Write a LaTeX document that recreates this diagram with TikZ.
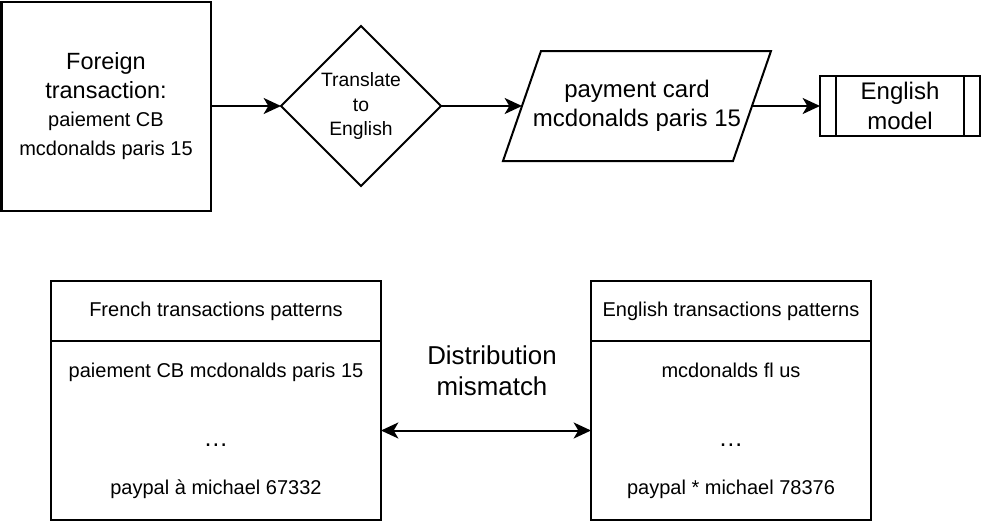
\documentclass[tikz,border=0pt]{standalone}
\usepackage{fontspec}
\setmainfont{Liberation Sans}
\usepackage{tikz}
\usetikzlibrary{arrows.meta, positioning, shapes.geometric, calc}
\newcommand{\pxu}{0.75pt}
\newcommand{\moredots}{{\fontsize{18.5}{18}\selectfont …}}

\begin{document}
\begin{tikzpicture}[
			x=0.75pt, y=-0.75pt,
			block/.style={rectangle, draw, line width=1.5pt, outer sep=0pt, inner sep=0pt, align=center},
			decision/.style={diamond, draw, line width=1.5pt, outer sep=0pt, inner sep=0pt, align=center, minimum width=160*\pxu, minimum height=160*\pxu, font=\fontsize{14.5}{18.5}\selectfont},
			data/.style={rectangle, outer sep=0pt, inner sep=0pt, align=center, minimum width=268*\pxu, minimum height=110*\pxu, font=\fontsize{18}{21.5}\selectfont},
			process/.style={block, minimum width=160*\pxu, minimum height=60*\pxu, font=\fontsize{18}{22.5}\selectfont},
			head/.style={block, minimum width=330*\pxu, minimum height=60*\pxu, font=\fontsize{15}{18}\selectfont},
			list/.style={block, minimum width=330*\pxu, minimum height=179*\pxu, font=\fontsize{15}{18}\selectfont},
			arrow/.style={-{Stealth[length=13pt, width=12pt, inset=3.5pt]}, line width=1.5pt},
			twoway/.style={{Stealth[length=13pt, width=12pt, inset=3.5pt]}-{Stealth[length=13pt, width=12pt, inset=3.5pt]}, line width=1.5pt}
		]
		\useasboundingbox (0,0) rectangle (982,522);
		
		\node[block, minimum width=209*\pxu, minimum height=209*\pxu, font=\fontsize{15}{21.5}\selectfont] (foreign) at (106,106) {{\fontsize{17.6}{21.5}\selectfont Foreign}\\{\fontsize{17.6}{21.5}\selectfont transaction:}\\paiement CB\\mcdonalds paris 15};
		\node[decision] (translate) at (361,106) {Translate\\to\\English};
		\node[data] (card) at (637,106) {payment card\\mcdonalds paris 15};
		% slanted data shape round the card text
		\draw[line width=1.5pt, line join=miter] (card.south west) -- ($(card.north west)+(38,0)$) -- (card.north east) -- ($(card.south east)+(-38,0)$) -- cycle;
		\coordinate (cardin) at ($(card.west)+(19,0)$);
		\coordinate (cardout) at ($(card.east)+(-19,0)$);
		\node[process] (engmodel) at (900,106) {English\\model};
		\draw[line width=1.5pt] ($(engmodel.north west)+(16,0)$) -- ($(engmodel.south west)+(16,0)$);
		\draw[line width=1.5pt] ($(engmodel.north east)+(-16,0)$) -- ($(engmodel.south east)+(-16,0)$);
		
		\node[head] (frhead) at (216,311) {French transactions patterns};
		\node[list, below=0pt of frhead] (frlist) {paiement CB mcdonalds paris 15\\[34pt]\moredots\\[17.5pt]paypal à michael 67332};
		\node[head, minimum width=280*\pxu] (enhead) at (731,311) {English transactions patterns};
		\node[list, minimum width=280*\pxu, below=0pt of enhead] (enlist) {mcdonalds fl us\\[34pt]\moredots\\[17.5pt]paypal * michael 78376};
		\node[align=center, font=\fontsize{19.4}{23.25}\selectfont] (mismatch) at (492,371) {Distribution\\mismatch};
		
		\draw[arrow] (foreign) -- (translate);
		\draw[arrow] (translate) -- (cardin);
		\draw[arrow] (cardout) -- (engmodel);
		\draw[twoway] (frlist) -- (enlist);
		\end{tikzpicture}
\end{document}
